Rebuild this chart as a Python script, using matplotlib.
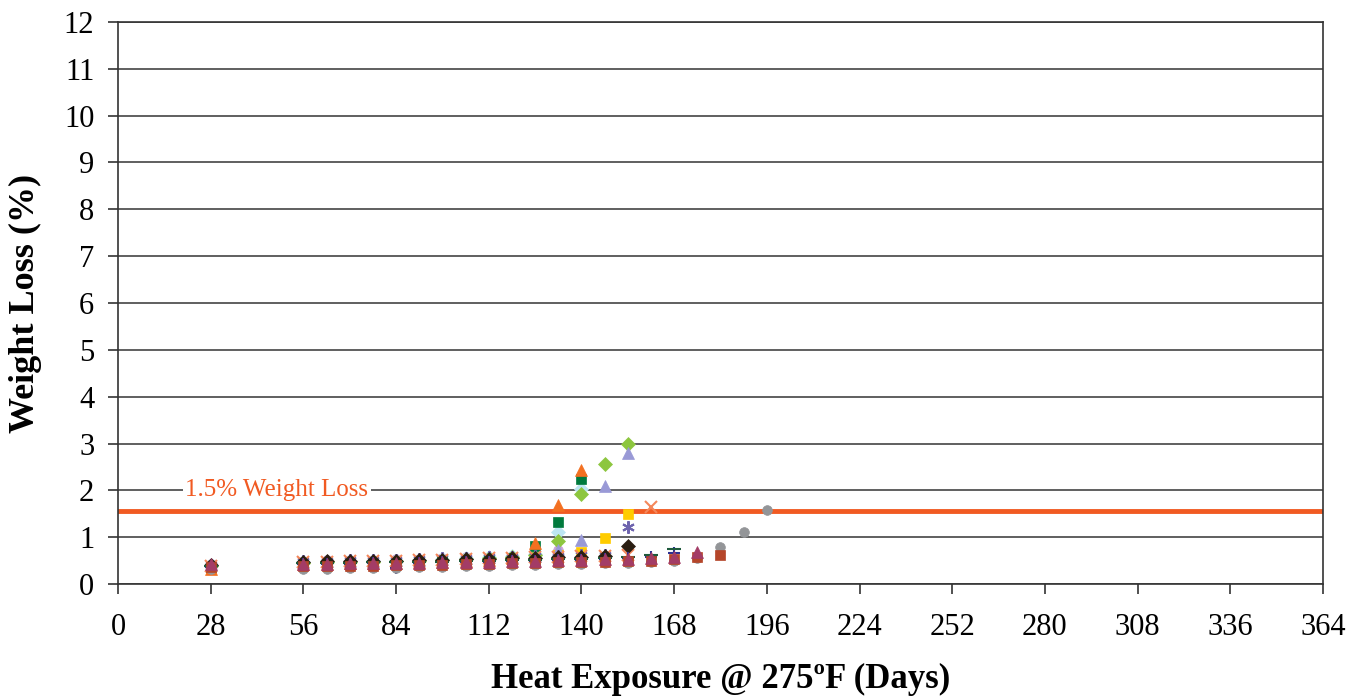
import matplotlib.pyplot as plt

plt.rcParams['font.family'] = ['Liberation Serif', 'DejaVu Serif']

# Exposure days (each series starts at 28 and runs until its last reading)
days = [28, 56, 63, 70, 77, 84, 91, 98, 105, 112, 119, 126,
        133, 140, 147, 154, 161, 168, 175, 182, 189, 196]

x_ticks = [0, 28, 56, 84, 112, 140, 168, 196, 224, 252, 280, 308, 336, 364]
y_ticks = list(range(0, 13))
limit_value = 1.55
limit_label = "1.5% Weight Loss"

lilac_circle = [0.42, 0.50, 0.51, 0.52, 0.52, 0.53, 0.54, 0.55, 0.57, 0.58, 0.60, 0.62, 0.72]
lightblue_dia = [0.40, 0.47, 0.48, 0.49, 0.50, 0.50, 0.51, 0.53, 0.55, 0.57, 0.60, 0.65, 1.10, 2.02]
yellow_sq = [0.31, 0.43, 0.45, 0.46, 0.46, 0.47, 0.48, 0.50, 0.52, 0.53, 0.54, 0.55, 0.62, 0.69, 0.98, 1.50]
lime_dia = [0.38, 0.45, 0.46, 0.47, 0.48, 0.49, 0.50, 0.52, 0.54, 0.56, 0.58, 0.62, 0.92, 1.92, 2.56, 2.99]
green_sq = [0.36, 0.44, 0.45, 0.45, 0.46, 0.47, 0.48, 0.49, 0.51, 0.53, 0.56, 0.82, 1.33, 2.24]
orange_tri = [0.33, 0.42, 0.43, 0.44, 0.44, 0.45, 0.46, 0.48, 0.50, 0.52, 0.55, 0.88, 1.69, 2.43]
lavender_tri = [0.40, 0.48, 0.49, 0.50, 0.50, 0.51, 0.52, 0.54, 0.56, 0.57, 0.58, 0.60, 0.72, 0.95, 2.09, 2.79]
purple_star = [0.41, 0.49, 0.50, 0.51, 0.51, 0.52, 0.53, 0.55, 0.56, 0.57, 0.58, 0.59, 0.60, 0.61, 0.62, 1.21]
orange_x = [0.39, 0.47, 0.48, 0.49, 0.49, 0.50, 0.51, 0.52, 0.54, 0.55, 0.56, 0.57, 0.58, 0.59, 0.60, 0.62, 1.64]
black_dia = [0.40, 0.48, 0.49, 0.50, 0.50, 0.50, 0.51, 0.52, 0.53, 0.54, 0.55, 0.56, 0.57, 0.58, 0.60, 0.81]
navy_plus = [0.37, 0.42, 0.43, 0.43, 0.44, 0.35, 0.45, 0.46, 0.47, 0.48, 0.49, 0.50, 0.51, 0.52, 0.54, 0.56, 0.58, 0.66]
darkgreen_dash = [0.38, 0.44, 0.45, 0.45, 0.46, 0.46, 0.47, 0.48, 0.49, 0.50, 0.51, 0.52, 0.53, 0.54, 0.56, 0.58, 0.62, 0.75]
gray_circle = [0.33, 0.33, 0.33, 0.34, 0.34, 0.35, 0.36, 0.37, 0.38, 0.39, 0.40, 0.41, 0.42, 0.43, 0.44, 0.45,
               0.46, 0.50, 0.55, 0.80, 1.10, 1.57]
brown_sq = [0.36, 0.38, 0.38, 0.39, 0.39, 0.40, 0.40, 0.41, 0.42, 0.43, 0.44, 0.45, 0.46, 0.47, 0.48, 0.49,
            0.50, 0.54, 0.57, 0.63]
maroon_tri = [0.42, 0.43, 0.43, 0.44, 0.44, 0.45, 0.45, 0.46, 0.47, 0.48, 0.49, 0.50, 0.51, 0.52, 0.53, 0.54,
              0.55, 0.58, 0.69]

series = [
    (lilac_circle, 'o', '#C9A3D6', 7),
    (lightblue_dia, 'D', '#BDE6F2', 7),
    (yellow_sq, 's', '#FFCC00', 7),
    (lime_dia, 'D', '#8DC63F', 7),
    (green_sq, 's', '#007A3D', 7),
    (orange_tri, '^', '#F37021', 8),
    (lavender_tri, '^', '#9999D6', 8),
    (purple_star, (6, 2, 0), '#6E64AE', 9),
    (orange_x, 'x', '#F4875A', 8),
    (black_dia, 'D', '#2A1E12', 7),
    (navy_plus, '+', '#2E3192', 9),
    (darkgreen_dash, '_', '#1E5A3C', 10),
    (gray_circle, 'o', '#939598', 7),
    (brown_sq, 's', '#B5462A', 7),
    (maroon_tri, '^', '#A33C66', 8),
]

fig = plt.figure(figsize=(13.51, 7.0), dpi=100)
ax = fig.add_axes([0.0873, 0.1657, 0.892, 0.8029])

for vals, marker, color, size in series:
    line_marker = marker in ('x', '+', '_', (6, 2, 0))
    ax.plot(days[:len(vals)], vals, linestyle='none', marker=marker, color=color,
            markersize=size, markeredgewidth=1.5 if line_marker else 0.5, zorder=3)

ax.axhline(limit_value, color='#F15A22', linewidth=3.5, zorder=2)
ax.text(48, 2.0, limit_label, color='#F15A22', fontsize=18, ha='center', va='center',
        bbox=dict(facecolor='white', edgecolor='none', pad=2), zorder=2)

ax.set_xlim(0, 364)
ax.set_ylim(0, 12)
ax.set_xticks(x_ticks)
ax.set_yticks(y_ticks)
ax.tick_params(axis='both', direction='out', length=7, width=1.2, color='#333333',
               labelsize=22, pad=10)
ax.tick_params(axis='x', pad=14)
ax.grid(axis='y', color='#444444', linewidth=1.2, zorder=1)
ax.set_axisbelow(True)
for side in ['left', 'bottom', 'right', 'top']:
    ax.spines[side].set_color('#333333')
    ax.spines[side].set_linewidth(1.2)

ax.set_xlabel("Heat Exposure @ 275ºF (Days)", fontsize=25, fontweight='bold', labelpad=15)
ax.set_ylabel("Weight Loss (%)", fontsize=26, fontweight='bold', labelpad=16)

fig.savefig('out.png', dpi=100)
